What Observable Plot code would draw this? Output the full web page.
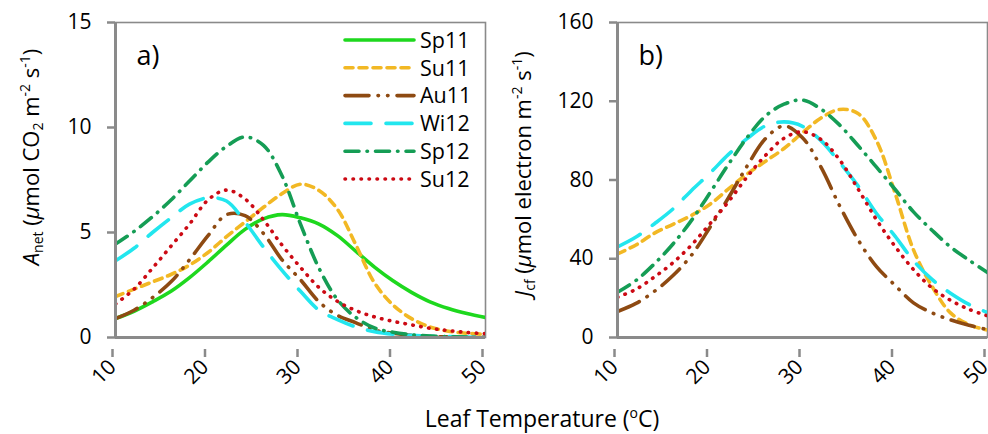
<!DOCTYPE html>
<html><head><meta charset="utf-8">
<script src="https://cdn.jsdelivr.net/npm/d3@7"></script>
<script src="https://cdn.jsdelivr.net/npm/@observablehq/plot@0.6"></script>
<style>
body{margin:0;background:#fff;font-family:"Open Sans",Lato,sans-serif;}
#wrap{position:relative;width:988px;height:434px;overflow:hidden;background:#fff;}
.panel{position:absolute;top:0;}
.ylab{position:absolute;white-space:nowrap;font-size:22px;color:#000;transform:translate(-50%,-50%) rotate(-90deg);line-height:1;}
.ylab sub,.ylab sup{font-size:14px;line-height:0;}
.ylab sub{vertical-align:-4px;}
.ylab sup{vertical-align:9px;}
.xlab{position:absolute;white-space:nowrap;font-size:23px;line-height:23px;color:#000;transform:translateX(-50%);}
.xlab sup{font-size:14px;vertical-align:9px;line-height:0;}
#legend{position:absolute;left:340px;top:0;}
</style>
</head><body>
<div id="wrap">
  <div id="pa" class="panel" style="left:0"></div>
  <div id="pb" class="panel" style="left:494px"></div>
  <div class="ylab" style="left:30px;top:157px"><i>A</i><sub>net</sub> (<i>μ</i>mol CO<sub>2</sub> m<sup>-2</sup> s<sup>-1</sup>)</div>
  <div class="ylab" style="left:522px;top:174px"><i>J</i><sub>cf</sub> (<i>μ</i>mol electron m<sup>-2</sup> s<sup>-1</sup>)</div>
  <div class="xlab" style="left:542px;top:407px">Leaf Temperature (<sup>o</sup>C)</div>
  <svg id="legend" width="170" height="200"></svg>
</div>
<script>
// ---- data ----
const temperature = [10,12,14,16,18,20,22,24,26,28,30,32,34,36,38,40,42,44,46,48,50];
const seasons = ["Sp11","Su11","Au11","Wi12","Sp12","Su12"];
const xTicks = [10,20,30,40,50];
const anetTicks = [0,5,10,15];
const jcfTicks = [0,40,80,120,160];

// Panel a: A_net (µmol CO2 m-2 s-1)
const anetSp11 = [0.9,1.25,1.7,2.2,2.85,3.6,4.4,5.15,5.65,5.85,5.7,5.4,4.85,4.1,3.35,2.7,2.15,1.7,1.38,1.14,0.95];
const anetSu11 = [1.95,2.3,2.65,3.0,3.45,4.05,4.8,5.5,6.2,6.85,7.3,7.0,6.1,4.4,2.6,1.55,0.9,0.5,0.3,0.2,0.15];
const anetAu11 = [0.9,1.3,1.9,2.65,3.7,4.85,5.85,5.8,4.95,3.7,2.75,1.7,1.05,0.7,0.35,0.2,0.1,0.05,0.03,0.02,0.01];
const anetWi12 = [3.65,4.25,5.0,5.7,6.35,6.65,6.5,5.5,4.3,3.2,2.2,1.3,0.85,0.5,0.28,0.16,0.1,0.06,0.04,0.02,0.01];
const anetSp12 = [4.45,5.05,5.75,6.55,7.45,8.35,9.1,9.55,9.15,7.7,5.4,3.3,1.8,0.95,0.45,0.25,0.13,0.07,0.04,0.02,0.01];
const anetSu12 = [1.6,2.3,3.3,4.35,5.4,6.55,7.02,6.6,5.6,4.4,3.34,2.38,1.72,1.28,0.98,0.77,0.6,0.44,0.33,0.24,0.18];

// Panel b: J_cf (µmol electron m-2 s-1); Sp11 not shown in panel b
const jcfSu11 = [42.5,47,53,57.5,62,67.7,75.5,83,89.5,96,104,111.5,115.8,113.8,100,73.5,44.5,26,12.5,6.5,3.8];
const jcfAu11 = [13.2,17.3,23.5,31.5,41.8,56,71,87,101,107.5,101.5,86.5,67,49.7,36,26.5,17.6,12.5,9,6.2,4];
const jcfWi12 = [46,51,57.8,65.3,74.7,83.5,93,101,107.5,109.5,107.3,100,89,77,63,51.5,39,29.5,22.5,16.8,12.7];
const jcfSp12 = [23,29,37.5,47.5,59.5,73.5,88,101.5,112.5,118.5,120.6,116,108,97.5,86.5,75.3,63.8,54.5,46,39.3,33];
const jcfSu12 = [20.5,24.5,30.8,38,47,57.8,69,81.5,92.5,101.2,104.5,100.6,90.3,75.5,59.8,46.3,34.5,25.2,18.9,14.3,11];

// ---- styles ----
const colors = {Sp11:"#1ed81e", Su11:"#f2b824", Au11:"#8e4a12", Wi12:"#22e6ee", Sp12:"#159d55", Su12:"#cc0a14"};
const dashes = {Sp11:null, Su11:"8,6", Au11:"24,9,0.5,9,0.5,9", Wi12:"26,15", Sp12:"14,8,0.5,8", Su12:"0.5,7.5"};
const FONT = "'Open Sans', Lato, sans-serif";
const AXIS = "#8a8a8a";

const anetSeries = {Sp11:anetSp11, Su11:anetSu11, Au11:anetAu11, Wi12:anetWi12, Sp12:anetSp12, Su12:anetSu12};
const jcfSeries = {Su11:jcfSu11, Au11:jcfAu11, Wi12:jcfWi12, Sp12:jcfSp12, Su12:jcfSu12};

function table(series){
  const rows = [];
  for (const s of seasons) {
    const vals = series[s];
    if (!vals) continue;
    temperature.forEach((t,i) => rows.push({season:s, T:t, v:vals[i]}));
  }
  return rows;
}

function panel(series, yTicks, opts){
  const rows = table(series);
  const lines = seasons.filter(s => series[s]).map(s =>
    Plot.line(rows.filter(d => d.season === s), {
      x:"T", y:"v", stroke: colors[s], strokeWidth: 3.6,
      strokeDasharray: dashes[s] || undefined, strokeLinecap: "round",
      curve: "catmull-rom", clip: true
    }));
  return Plot.plot({
    width: 494, height: 434,
    marginLeft: opts.ml, marginRight: opts.mr, marginTop: 22, marginBottom: 97,
    x: {domain: [xTicks[0], xTicks[xTicks.length-1]]},
    y: {domain: [yTicks[0], yTicks[yTicks.length-1]]},
    style: {fontFamily: FONT, fontSize: "21px", color: "#000", background: "transparent", overflow: "visible"},
    marks: [
      Plot.frame({stroke: AXIS, strokeWidth: 1.6}),
      ...lines,
      Plot.ruleX(xTicks.slice(0,1), {stroke: AXIS, strokeWidth: 3}),
      Plot.ruleY(yTicks.slice(0,1), {stroke: AXIS, strokeWidth: 3}),
      Plot.axisY({ticks: yTicks, tickSize: 8, tickPadding: 16, stroke: AXIS, strokeWidth: 2.5, label: null, fontSize: 21}),
      Plot.axisX({ticks: xTicks, tickSize: 8, tickPadding: 6, tickRotate: -45, stroke: AXIS, strokeWidth: 2.5, label: null, fontSize: 21, dy: 12, dx: -3}),
      Plot.text([opts.tag], {frameAnchor: "top-left", dx: 21, dy: 34, fontSize: 27, textAnchor: "start", lineAnchor: "middle"})
    ]
  });
}

document.getElementById("pa").append(panel(anetSeries, anetTicks, {ml:115, mr:9, tag:"a)"}));
document.getElementById("pb").append(panel(jcfSeries, jcfTicks, {ml:123, mr:1, tag:"b)"}));

// legend (inside panel a)
const lg = d3.select("#legend");
const rowsY = [40,67.8,95.6,123.4,151.2,179];
seasons.forEach((s,i) => {
  const y = rowsY[i];
  lg.append("line").attr("x1",5).attr("x2",74).attr("y1",y).attr("y2",y)
    .attr("stroke",colors[s]).attr("stroke-width",3.6).attr("stroke-linecap","round")
    .attr("stroke-dasharray", dashes[s]);
  lg.append("text").attr("x",80).attr("y",y).attr("dy","0.36em")
    .attr("font-family",FONT).attr("font-size",21.5).text(s);
});
</script>
</body></html>
